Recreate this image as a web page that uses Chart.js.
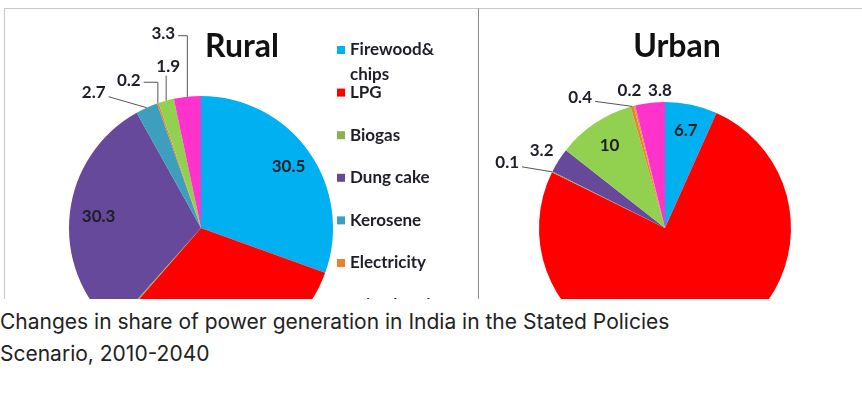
<!DOCTYPE html>
<html>
<head>
<meta charset="utf-8">
<script src="https://cdn.jsdelivr.net/npm/chart.js@4.4.1/dist/chart.umd.min.js"></script>
<style>
body{margin:0;background:#fff;width:862px;height:405px;overflow:hidden;font-family:Inter, sans-serif}
.panel{position:absolute;top:8px;height:290px;overflow:hidden;border-top:1px solid #c9c9c9;background:#fff}
#rural{left:4px;width:474px;border-left:1px solid #c9c9c9}
#urban{left:478px;width:384px;border-left:1px solid #8c8c8c}
canvas{position:absolute;left:0;top:0}
.caption{position:absolute;left:0;top:306px;font-size:21px;line-height:32px;color:#222}
</style>
</head>
<body>
<div class="panel" id="rural"><canvas id="ruralChart" width="474" height="440"></canvas></div>
<div class="panel" id="urban"><canvas id="urbanChart" width="383" height="440"></canvas></div>
<div class="caption">Changes in share of power generation in India in the Stated Policies<br>Scenario, 2010-2040</div>
<script>
// categories in legend order (last two are cut off in the picture)
const categories = ['Firewood& chips', 'LPG', 'Biogas', 'Dung cake', 'Kerosene', 'Electricity', 'Mixed fuels', 'Others']
const ruralValues = [30.5, 30.9, 0.2, 30.3, 2.7, 0.2, 1.9, 3.3]
const urbanValues = [6.7, 75.6, 0.1, 3.2, 10, 0.4, 0.2, 3.8]

const legendColors = ['#00b0f0', '#ff0000', '#8fb04e', '#66499a', '#3d9fbd', '#e9822f', '#92d050', '#ff33cc']
const ruralColors = ['#00b0f0', '#ff0000', '#8fb04e', '#66499a', '#3d9fbd', '#e9822f', '#92d050', '#ff33cc']
const urbanColors = ['#00b0f0', '#ff0000', '#8fb04e', '#66499a', '#92d050', '#e9822f', '#d9a040', '#ff33cc']

// where each value label goes: r = inside at fraction of radius, dx/dy = offset from slice edge
const ruralPlace = [
    {r: 0.81}, null, null, {r: 0.78},
    {dx: -53, dy: -15, lead: 'direct'},
    {dx: -29, dy: -23, lead: 'elbow'},
    {dx: 2, dy: -34, lead: 'down'},
    {dx: -24, dy: -63, lead: 'elbow'}
]
const urbanPlace = [
    {r: 0.79}, null,
    {dx: -45, dy: -9, lead: 'direct'},
    {dx: -17, dy: -10},
    {r: 0.79},
    {dx: -52, dy: -9, lead: 'direct'},
    {dx: -5, dy: -15},
    {dx: 10, dy: -12}
]

const sliceLabels = {
    id: 'sliceLabels',
    afterDatasetsDraw(chart, args, opts) {
        const ctx = chart.ctx
        const meta = chart.getDatasetMeta(0)
        const values = chart.data.datasets[0].data
        ctx.save()
        ctx.font = 'bold 17px Lato'
        ctx.textAlign = 'center'
        ctx.textBaseline = 'middle'
        ctx.fillStyle = '#1e1e28'
        ctx.strokeStyle = '#555'
        ctx.lineWidth = 1
        meta.data.forEach((arc, i) => {
            const p = opts.place[i]
            if (!p) return
            const {x, y, startAngle, endAngle, outerRadius} = arc.getProps(['x', 'y', 'startAngle', 'endAngle', 'outerRadius'], true)
            const mid = (startAngle + endAngle) / 2
            const txt = String(values[i])
            let tx, ty
            if (p.r) {
                tx = x + Math.cos(mid) * outerRadius * p.r
                ty = y + Math.sin(mid) * outerRadius * p.r
            } else {
                const ox = x + Math.cos(mid) * outerRadius
                const oy = y + Math.sin(mid) * outerRadius
                tx = ox + p.dx
                ty = oy + p.dy
                const w = ctx.measureText(txt).width
                ctx.beginPath()
                if (p.lead === 'direct') {
                    ctx.moveTo(tx + w / 2 + 3, ty + 4)
                    ctx.lineTo(ox, oy)
                } else if (p.lead === 'elbow') {
                    ctx.moveTo(tx + w / 2 + 3, ty + 2)
                    ctx.lineTo(ox, ty + 2)
                    ctx.lineTo(ox, oy)
                } else if (p.lead === 'down') {
                    ctx.moveTo(ox, ty + 9)
                    ctx.lineTo(ox, oy)
                }
                if (p.lead) ctx.stroke()
            }
            ctx.fillText(txt, tx, ty)
        })
        ctx.restore()
    }
}

// title and (for rural) the legend on the right
const panelText = {
    id: 'panelText',
    afterDraw(chart, args, opts) {
        const ctx = chart.ctx
        ctx.save()
        ctx.fillStyle = '#111'
        ctx.font = 'bold 32px Lato'
        ctx.textAlign = 'center'
        ctx.textBaseline = 'middle'
        ctx.fillText(opts.title, opts.titleX, opts.titleY)
        if (opts.legend) {
            ctx.font = 'bold 17px Lato'
            ctx.textAlign = 'left'
            categories.forEach((c, i) => {
                const y = opts.legendY + i * 42.6
                ctx.fillStyle = legendColors[i]
                ctx.fillRect(opts.legendX, y - 4, 8, 8)
                ctx.fillStyle = '#1e1e28'
                // wrap long names
                let lines = [c]
                if (ctx.measureText(c).width > 100) lines = c.split(' ')
                lines.forEach((l, k) => ctx.fillText(l, opts.legendX + 13, y + k * 25))
            })
        }
        ctx.restore()
    }
}

function makePie(id, values, colors, place, pad, text) {
    return new Chart(document.getElementById(id), {
        type: 'pie',
        data: {
            labels: categories,
            datasets: [{data: values, backgroundColor: colors, borderWidth: 0}]
        },
        options: {
            responsive: false,
            animation: false,
            layout: {padding: pad},
            plugins: {
                legend: {display: false},
                tooltip: {enabled: false},
                sliceLabels: {place},
                panelText: text
            }
        },
        plugins: [sliceLabels, panelText]
    })
}

makePie('ruralChart', ruralValues, ruralColors, ruralPlace,
    {left: 64, right: 146, top: 87, bottom: 89},
    {title: 'Rural', titleX: 237, titleY: 38, legend: true, legendX: 332, legendY: 41})
makePie('urbanChart', urbanValues, urbanColors, urbanPlace,
    {left: 60, right: 71, top: 93, bottom: 95},
    {title: 'Urban', titleX: 198, titleY: 38, legend: false})
</script>
</body>
</html>
